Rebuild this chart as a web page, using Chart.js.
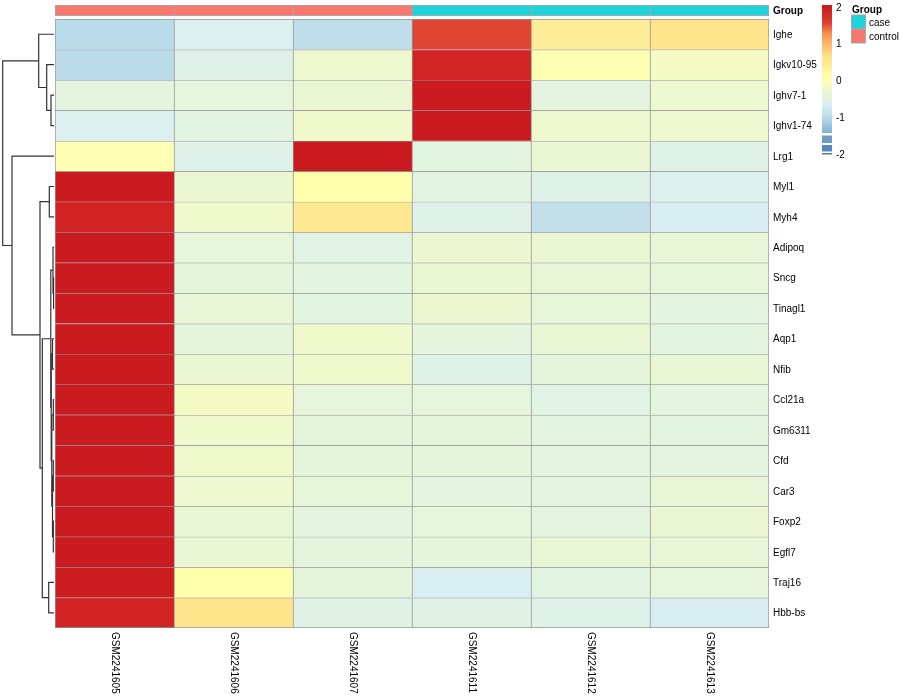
<!DOCTYPE html>
<html><head><meta charset="utf-8">
<script src="https://cdn.jsdelivr.net/npm/chart.js@4.4.1/dist/chart.umd.min.js"></script>
<style>html,body{margin:0;padding:0;background:#fff}#wrap{width:900px;height:700px;position:relative}</style>
</head><body><div id="wrap"><canvas id="c"></canvas></div>
<script>
const samples = ['GSM2241605','GSM2241606','GSM2241607','GSM2241611','GSM2241612','GSM2241613'];
const groups = ['control','control','control','case','case','case'];
const groupLevels = ['case','control'];
const genes = ['Ighe','Igkv10-95','Ighv7-1','Ighv1-74','Lrg1','Myl1','Myh4','Adipoq','Sncg','Tinagl1','Aqp1','Nfib','Ccl21a','Gm6311','Cfd','Car3','Foxp2','Egfl7','Traj16','Hbb-bs'];
const gsm2241605 = [-1.0,-0.98,-0.44,-0.62,0.05,2.04,1.88,2.04,2.04,2.04,2.04,2.04,2.04,2.04,2.04,2.04,2.04,2.04,2.0,1.88];
const gsm2241606 = [-0.62,-0.55,-0.4,-0.47,-0.55,-0.3,-0.22,-0.4,-0.42,-0.36,-0.42,-0.3,-0.12,-0.22,-0.22,-0.25,-0.33,-0.32,0.1,0.62];
const gsm2241607 = [-0.95,-0.25,-0.3,-0.22,2.04,0.1,0.5,-0.5,-0.45,-0.45,-0.22,-0.22,-0.4,-0.42,-0.42,-0.37,-0.44,-0.43,-0.42,-0.52];
const gsm2241611 = [1.55,1.85,2.04,2.04,-0.45,-0.48,-0.55,-0.28,-0.3,-0.28,-0.43,-0.53,-0.4,-0.42,-0.42,-0.44,-0.4,-0.42,-0.65,-0.52];
const gsm2241612 = [0.4,0.05,-0.44,-0.25,-0.3,-0.55,-0.92,-0.3,-0.36,-0.38,-0.32,-0.42,-0.5,-0.45,-0.44,-0.44,-0.44,-0.33,-0.48,-0.55];
const gsm2241613 = [0.62,-0.12,-0.27,-0.25,-0.53,-0.6,-0.66,-0.36,-0.38,-0.45,-0.45,-0.32,-0.45,-0.45,-0.44,-0.36,-0.3,-0.35,-0.4,-0.68];
const legendTicks = [2,1,0,-1,-2];
// row dendrogram (hclust-style merge: negative = leaf number, positive = earlier merge step)
const dendroMerge = [[-3,-4],[-2,1],[-1,2],[-6,-7],[-9,-10],[-8,5],[-11,-12],[-13,-14],[-15,-16],[-17,-18],[9,10],[8,11],[7,12],[6,13],[-19,-20],[14,15],[4,16],[-5,17],[3,18]];
const dendroHeight = [3.0,7.3,15.3,4.7,0.4,1.0,1.5,0.7,0.7,0.7,1.5,2.2,2.8,3.2,5.3,11.7,14.0,42.0,51.3];

const columns = [gsm2241605,gsm2241606,gsm2241607,gsm2241611,gsm2241612,gsm2241613];
const groupColor = {case:'#1ED3D9', control:'#F8786F'};
const FONT = "'Liberation Sans', Arial, Helvetica, sans-serif";

const stops = [[-2.06,'#4575B4'],[-1.6,'#6F9BC9'],[-1.2,'#9EC8E0'],[-0.95,'#C0DEEA'],[-0.65,'#D9EFF2'],[-0.45,'#E3F4DF'],[-0.25,'#EDF8CE'],[0,'#FDFEBA'],[0.1,'#FFFFAC'],[0.4,'#FEED98'],[0.65,'#FEE48A'],[1.0,'#FDB96A'],[1.3,'#F88D52'],[1.55,'#E04533'],[1.85,'#D22525'],[2.06,'#C91A1F']];
function h2r(h){return [1,3,5].map(i=>parseInt(h.substr(i,2),16));}
function colorFor(v){
  if(v<=stops[0][0]) return stops[0][1];
  for(let k=1;k<stops.length;k++){
    if(v<=stops[k][0]){
      const t=(v-stops[k-1][0])/(stops[k][0]-stops[k-1][0]);
      const a=h2r(stops[k-1][1]), b=h2r(stops[k][1]);
      return 'rgb('+a.map((c,i)=>Math.round(c+(b[i]-c)*t)).join(',')+')';
    }
  }
  return stops[stops.length-1][1];
}

const ANNO_TOP=-0.46, ANNO_BOT=-0.1;
const datasets = genes.map((g,i)=>({
  label:g,
  data: samples.map(()=>[i,i+1]),
  backgroundColor: samples.map((s,j)=>colorFor(columns[j][i])),
  borderColor:'#969696',
  borderWidth: ctx => ({top:1,left:1,right: ctx.dataIndex===samples.length-1?1:0, bottom: i===genes.length-1?1:0}),
  borderSkipped:false, grouped:false, categoryPercentage:1, barPercentage:1
}));
datasets.push({
  label:'Group',
  data: samples.map(()=>[ANNO_TOP,ANNO_BOT]),
  backgroundColor: groups.map(g=>groupColor[g]),
  borderColor:'#a8a8a8',
  borderWidth: ctx => ({top:1,bottom:1,left:1,right: ctx.dataIndex===samples.length-1?1:0}),
  borderSkipped:false, grouped:false, categoryPercentage:1, barPercentage:1
});

const extras = {
  id:'extras',
  afterDraw(chart){
    const ctx=chart.ctx, ys=chart.scales.y, xs=chart.scales.x, ca=chart.chartArea;
    ctx.save();
    // dendrogram
    const right=ca.left-1, left=2.7, maxH=Math.max(...dendroHeight);
    const hx=h=>right-h/maxH*(right-left);
    const pos=[];
    const get=id=> id<0 ? {x:right,y:ys.getPixelForValue(-id-1+0.5)} : pos[id-1];
    ctx.strokeStyle='#333'; ctx.lineWidth=1.2;
    dendroMerge.forEach((m,k)=>{
      const a=get(m[0]), b=get(m[1]), x=hx(dendroHeight[k]);
      ctx.beginPath(); ctx.moveTo(a.x,a.y); ctx.lineTo(x,a.y); ctx.lineTo(x,b.y); ctx.lineTo(b.x,b.y); ctx.stroke();
      pos.push({x,y:(a.y+b.y)/2});
    });
    // column labels
    ctx.fillStyle='#000'; ctx.font='10px '+FONT; ctx.textAlign='left'; ctx.textBaseline='middle';
    samples.forEach((s,j)=>{
      ctx.save(); ctx.translate(xs.getPixelForValue(j), ca.bottom+4); ctx.rotate(Math.PI/2); ctx.fillText(s,0,0); ctx.restore();
    });
    // color bar legend
    const bx=822, bw=10, y2=7.3, per=36.75;
    const vy=v=>y2+(2-v)*per;
    for(let y=5;y<133;y++){ ctx.fillStyle=colorFor(2-(y+0.5-y2)/per); ctx.fillRect(bx,y,bw,1); }
    [[135.5,143],[145,151.5],[153,154.5]].forEach(([a,b])=>{ ctx.fillStyle=colorFor(2-((a+b)/2-y2)/per); ctx.fillRect(bx,a,bw,b-a); });
    ctx.fillStyle='#000'; ctx.font='10px '+FONT; ctx.textAlign='left';
    legendTicks.forEach(t=>ctx.fillText(String(t),836,vy(t)+0.5));
    // group legend
    ctx.font='bold 10px '+FONT; ctx.fillText('Group',852,10);
    groupLevels.forEach((g,k)=>{
      const y=15+k*14;
      ctx.fillStyle=groupColor[g]; ctx.fillRect(851.5,y,14,14);
      ctx.strokeStyle='#a8a8a8'; ctx.lineWidth=1; ctx.strokeRect(851.5,y,14,14);
      ctx.fillStyle='#000'; ctx.font='10px '+FONT; ctx.fillText(g,869,y+8);
    });
    ctx.restore();
  }
};

new Chart(document.getElementById('c'),{
  type:'bar',
  data:{labels:samples, datasets},
  plugins:[extras],
  options:{
    responsive:true, maintainAspectRatio:false, animation:false, events:[],
    layout:{padding:{left:55,top:5,right:0,bottom:72}},
    plugins:{legend:{display:false}, tooltip:{enabled:false}},
    scales:{
      x:{type:'category', display:false, offset:true},
      y:{type:'linear', position:'right', reverse:true, min:ANNO_TOP, max:genes.length,
        grid:{display:false, drawTicks:false}, border:{display:false},
        afterBuildTicks: ax=>{ ax.ticks=[{value:-0.24}].concat(genes.map((g,i)=>({value:i+0.53}))); },
        afterFit: ax=>{ ax.width=131; ax.paddingTop=0; ax.paddingBottom=0; },
        ticks:{autoSkip:false, padding:4, color:'#000',
          font: c=>({family:FONT, size:10, weight: c.index===0?'bold':'normal'}),
          callback:(v,idx)=> idx===0?'Group':genes[idx-1]}
      }
    }
  }
});
</script></body></html>
